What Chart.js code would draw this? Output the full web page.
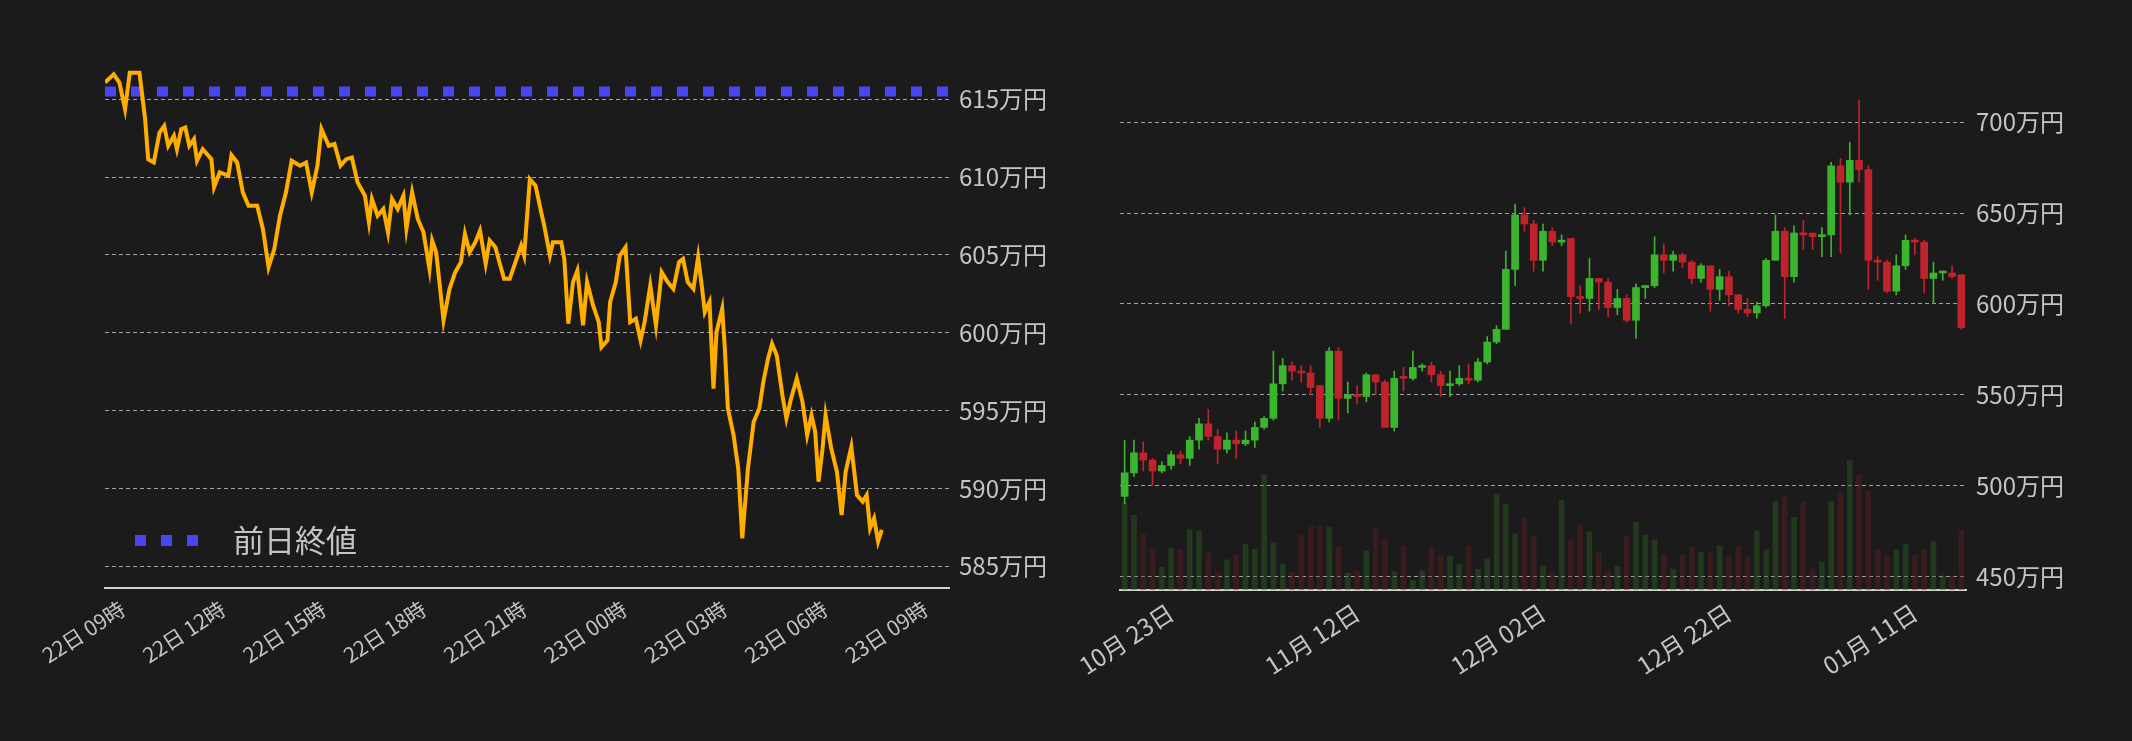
<!DOCTYPE html>
<html><head><meta charset="utf-8">
<script src="https://cdn.jsdelivr.net/npm/chart.js@4/dist/chart.umd.min.js"></script>
<style>
html,body{margin:0;padding:0;background:#1b1b1b;width:2132px;height:741px;overflow:hidden}
#w1{position:absolute;left:0;top:0;width:1066px;height:741px}
#w2{position:absolute;left:1066px;top:0;width:1066px;height:741px}
</style></head><body>
<div id="w1"><canvas id="c1"></canvas></div>
<div id="w2"><canvas id="c2"></canvas></div>
<script>
// ---- intraday line (hours after 22日 09時, price in 万円) ----
const lineHours = [-0.53,-0.27,-0.10,0.07,0.21,0.50,0.67,0.76,0.93,1.10,1.24,1.36,1.53,1.62,1.75,1.87,1.99,2.13,2.22,2.39,2.65,2.73,2.90,3.16,3.25,3.42,3.59,3.76,4.02,4.19,4.36,4.53,4.70,4.88,5.05,5.30,5.48,5.65,5.82,5.94,6.16,6.33,6.51,6.68,6.85,7.02,7.24,7.36,7.45,7.62,7.79,7.93,8.05,8.22,8.39,8.48,8.65,8.82,8.99,9.17,9.25,9.37,9.59,9.77,9.94,10.11,10.23,10.37,10.54,10.68,10.85,10.97,11.14,11.26,11.40,11.57,11.74,11.91,12.00,12.17,12.34,12.51,12.60,12.77,12.86,13.11,13.20,13.32,13.46,13.59,13.76,13.88,14.06,14.23,14.31,14.49,14.57,14.74,14.86,15.03,15.17,15.34,15.48,15.60,15.77,15.94,16.11,16.29,16.46,16.63,16.75,16.89,17.06,17.20,17.32,17.40,17.54,17.66,17.75,17.92,18.00,18.09,18.26,18.40,18.52,18.69,18.86,19.03,19.15,19.29,19.41,19.55,19.72,19.84,19.98,20.15,20.32,20.46,20.59,20.70,20.80,20.92,21.01,21.18,21.35,21.49,21.61,21.78,21.95,22.12,22.24,22.34,22.46,22.58,22.69];
const linePrices = [616.07,616.6,616.07,614.36,616.71,616.71,613.72,611.15,610.94,612.86,613.29,612.01,612.65,611.79,613.08,613.18,612.01,612.44,611.05,611.79,611.15,609.34,610.30,610.09,611.41,610.94,609.02,608.16,608.16,606.67,604.21,605.38,607.52,609.02,611.05,610.73,610.94,609.02,610.73,613.08,612.01,612.12,610.73,611.15,611.26,609.66,608.80,607.09,608.59,607.52,607.95,606.45,608.59,607.95,608.80,606.67,609.02,607.31,606.45,604.10,605.92,605.17,600.79,602.82,603.89,604.53,606.35,605.17,605.81,606.56,604.42,605.92,605.49,604.53,603.46,603.46,604.53,605.60,604.96,609.87,609.45,607.74,606.88,604.96,605.81,605.81,604.74,600.58,603.25,603.99,600.47,603.25,601.75,600.68,599.08,599.51,601.97,603.25,604.96,605.49,600.68,600.90,599.51,600.68,603.03,600.47,603.89,603.25,602.82,604.53,604.74,603.25,602.82,604.85,602.82,601.32,601.97,596.41,600.04,601.54,598.97,595.13,593.42,591.28,586.79,591.28,594.27,595.13,596.84,598.33,599.29,598.55,595.98,594.49,595.77,597.05,595.56,593.42,594.70,593.63,590.43,592.56,594.70,592.56,591.07,588.29,591.07,592.67,589.57,589.15,589.57,587.44,588.08,586.58,587.33];
const prevClose = 615.5;
const lineTickHours = [0,3,6,9,12,15,18,21,24];
const lineTickLabels = ['22日 09時','22日 12時','22日 15時','22日 18時','22日 21時','23日 00時','23日 03時','23日 06時','23日 09時'];
const lineYTicks = [585,590,595,600,605,610,615];

// ---- daily candles (from 10月18日), 万円 ----
const candleOpen  = [494,507,518,514,508,511,517,515,525,534,527,520,525,523,525,532,537,556,566,563,562,555,537,574,548,550,549,561,557,532,560,559,565,566,561,555,556,559,558,568,579,586,619,649,644,624,640,634,636,604,603,614,612,598,603,591,609,610,627,624,627,623,614,621,608,615,605,597,595,599,624,640,615,639,639,637,638,676,667,679,674,624,623,607,621,635,634,614,617,617,616];
const candleClose = [507,518,514,508,511,517,515,525,534,527,520,525,523,525,532,537,556,566,563,562,554,537,574,548,550,549,561,557,532,559,559,565,566,561,555,556,559,558,568,579,586,619,649,644,624,640,634,635,604,603,614,612,598,603,591,609,610,627,624,627,623,614,621,608,615,605,597,595,599,624,640,615,639,638,637,638,676,667,679,674,624,623,607,621,635,634,614,617,617.5,615,587];
const candleHigh  = [525,525,524,515,513,519,519,527,537,542,531,529,530,530,535,538,574,570,568,566,566,555,576,576,557,555,562,561,558,563,565,574,567,568,563,563,566,567,570,582,588,629,655,653,646,644,642,638,636,610,625,614,614,608,605,611,610,637,633,629,628,624,622,621,619,618,605,603,601,625,649,642,643,646,639,642,678,680,689,712,676,626,624,627,638,636,635,623,618,621,616];
const candleLow   = [490,505,508,500,507,509,512,511,520,525,512,518,515,522,521,531,536,552,558,557,550,532,535,536,540,545,546,550,532,530,552,558,563,557,549,549,555,556,557,567,578,586,610,640,618,618,632,632,589,595,596,597,593,594,590,581,603,609,617,618,620,611,612,596,602,599,595,593,592,598,624,592,612,630,630,626,626,628,649,667,608,613,606,605,619,627,606,600,613,614,586];
const volume      = [258,221,166,121,68,125,121,179,175,110,53,90,105,135,121,341,140,78,53,163,187,188,185,128,51,58,116,181,148,55,131,30,58,125,103,101,77,131,62,93,283,253,166,213,161,71,51,265,149,193,173,110,56,71,159,200,163,149,107,63,104,128,113,113,131,98,131,98,176,119,263,277,215,260,63,83,263,288,383,341,293,121,103,119,137,103,121,143,43,43,178];
const priceYTicks = [450,500,550,600,650,700];
const dateTickIdx = [5,25,45,65,85];

const GRID = 'rgba(210,210,210,0.75)';
const TXT = '#c4c4c4';
const FONT = "'Noto Sans CJK JP','Noto Sans',sans-serif";

// ---------- left chart ----------
const legendPlugin = {
  id:'lg',
  afterDraw(ch){
    const c = ch.ctx;
    c.save();
    c.fillStyle = '#4646f5';
    for(let i=0;i<3;i++) c.fillRect(135+i*26, 535, 11, 11);
    c.fillStyle = TXT;
    c.font = "31px " + FONT;
    c.textBaseline = 'middle';
    c.fillText('前日終値', 233, 540);
    c.restore();
  }
};
new Chart(document.getElementById('c1'), {
  type:'line',
  data:{datasets:[
    {data: lineHours.map((h,i)=>({x:h,y:linePrices[i]})), borderColor:'#ffae00', borderWidth:4, pointRadius:0, tension:0},
    {data:[{x:-0.53,y:prevClose},{x:24.7,y:prevClose}], borderColor:'#4646f5', borderWidth:10, borderDash:[11,15], pointRadius:0}
  ]},
  options:{
    responsive:true, maintainAspectRatio:false, animation:false,
    layout:{padding:{left:105,top:65,right:0,bottom:0}},
    plugins:{legend:{display:false},tooltip:{enabled:false}},
    scales:{
      x:{type:'linear', min:-0.53, max:24.7,
        afterBuildTicks(s){ s.ticks = lineTickHours.map(v=>({value:v})); },
        afterFit(s){ s.height = 153; },
        grid:{display:false, drawTicks:false},
        border:{color:'#d0d0d0', width:2},
        ticks:{color:TXT, font:{size:21,family:FONT}, maxRotation:33, minRotation:33, padding:8,
          callback(v){ const i=lineTickHours.indexOf(v); return i>=0?lineTickLabels[i]:''; }}
      },
      y:{position:'right', min:583.6, max:617.2,
        afterBuildTicks(s){ s.ticks = lineYTicks.map(v=>({value:v})); },
        afterFit(s){ s.width = 117; },
        grid:{color:GRID, lineWidth:1, drawTicks:false},
        border:{display:false, dash:[4,3]},
        ticks:{color:TXT, font:{size:24,family:FONT}, padding:10, callback:v=>v+'万円'}
      }
    }
  },
  plugins:[legendPlugin]
});

// ---------- right chart ----------
const dateLabels = [];
{ const d = new Date(2023,9,18);
  for(let i=0;i<candleOpen.length;i++){
    const m = String(d.getMonth()+1).padStart(2,'0'), dd = String(d.getDate()).padStart(2,'0');
    dateLabels.push(m+'月 '+dd+'日'); d.setDate(d.getDate()+1);
  } }
const up = candleOpen.map((o,i)=>candleClose[i]>=o);
const G='#3cb52e', R='#c0232c';
new Chart(document.getElementById('c2'), {
  type:'bar',
  data:{labels:dateLabels, datasets:[
    {data: volume, yAxisID:'yv', backgroundColor: up.map(u=>u?'rgba(45,95,35,0.45)':'rgba(100,30,35,0.45)'), barPercentage:0.6, categoryPercentage:1, grouped:false, order:3},
    {data: candleLow.map((l,i)=>[l,candleHigh[i]]), yAxisID:'y', backgroundColor: up.map(u=>u?G:R), barThickness:1, grouped:false, order:2},
    {data: candleOpen.map((o,i)=>[o,candleClose[i]]), yAxisID:'y', backgroundColor: up.map(u=>u?G:R), barThickness:7, minBarLength:2, grouped:false, order:1}
  ]},
  options:{
    responsive:true, maintainAspectRatio:false, animation:false,
    layout:{padding:{left:54,top:95,right:0,bottom:0}},
    plugins:{legend:{display:false},tooltip:{enabled:false}},
    scales:{
      x:{offset:true,
        afterFit(s){ s.height = 151; },
        grid:{display:false, drawTicks:false},
        border:{color:'#d0d0d0', width:2},
        ticks:{color:TXT, font:{size:24,family:FONT}, autoSkip:false, maxRotation:33, minRotation:33, padding:8,
          callback(v,i){ return dateTickIdx.includes(i)?dateLabels[i]:null; }}
      },
      y:{position:'right', min:442.5, max:715,
        afterBuildTicks(s){ s.ticks = priceYTicks.map(v=>({value:v})); },
        afterFit(s){ s.width = 166; },
        grid:{color:GRID, lineWidth:1, drawTicks:false},
        border:{display:false, dash:[4,3]},
        ticks:{color:TXT, font:{size:24,family:FONT}, padding:10, callback:v=>v+'万円'}
      },
      yv:{display:false, min:0, max:1460}
    }
  }
});
</script>
</body></html>
